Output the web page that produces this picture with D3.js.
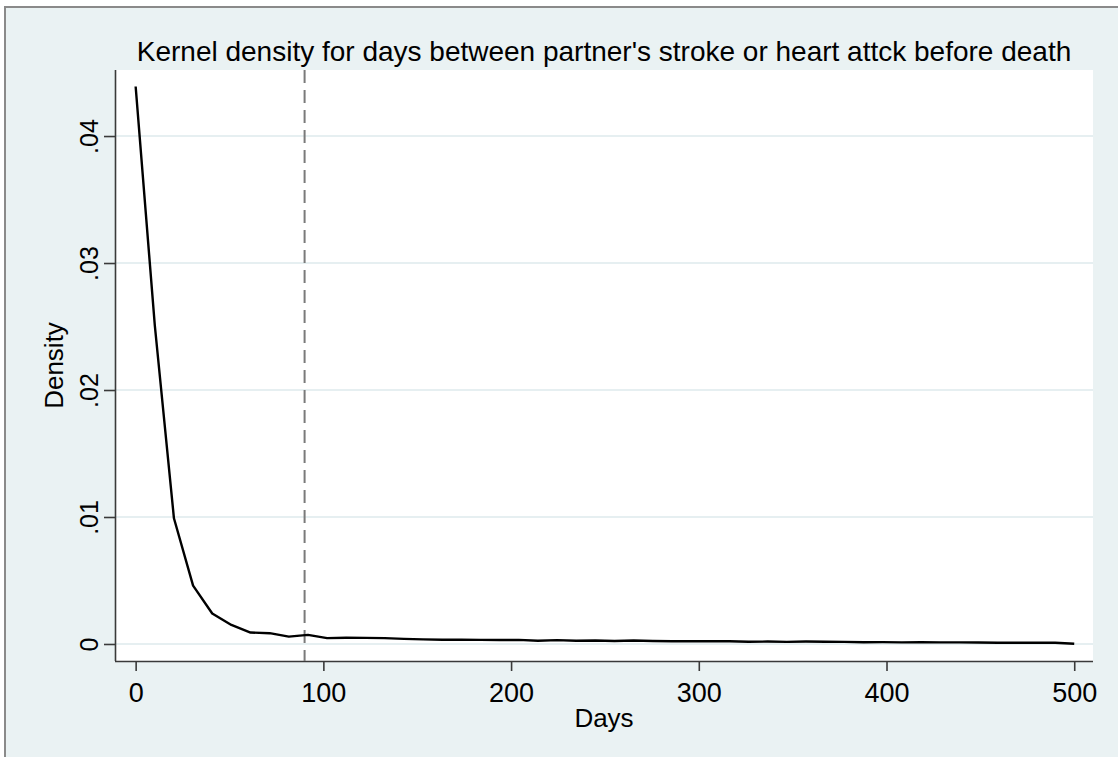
<!DOCTYPE html>
<html>
<head>
<meta charset="utf-8">
<script src="https://cdn.jsdelivr.net/npm/d3@7"></script>
<style>
  html, body { margin: 0; padding: 0; background: #ffffff; }
  svg { display: block; }
  text { font-family: "Liberation Sans", Arial, sans-serif; fill: #000; }
</style>
</head>
<body>
<script>
// Kernel density estimate evaluated on a 50-point grid over 0–500 days
const days = [0, 10.2, 20.4, 30.6, 40.8, 51.0, 61.2, 71.4, 81.6, 91.8,
  102.0, 112.2, 122.4, 132.7, 142.9, 153.1, 163.3, 173.5, 183.7, 193.9,
  204.1, 214.3, 224.5, 234.7, 244.9, 255.1, 265.3, 275.5, 285.7, 295.9,
  306.1, 316.3, 326.5, 336.7, 346.9, 357.1, 367.3, 377.6, 387.8, 398.0,
  408.2, 418.4, 428.6, 438.8, 449.0, 459.2, 469.4, 479.6, 489.8, 500.0];
const density = [0.0439, 0.0251, 0.0099, 0.0046, 0.0024, 0.0015, 0.0009, 0.00085, 0.00058, 0.00072,
  0.00046, 0.00049, 0.00048, 0.00046, 0.00040, 0.00036, 0.00033, 0.00033, 0.00032, 0.00031,
  0.00032, 0.00026, 0.00030, 0.00025, 0.00028, 0.00024, 0.00028, 0.00024, 0.00022, 0.00022,
  0.00022, 0.00021, 0.00018, 0.00019, 0.00017, 0.00019, 0.00018, 0.00017, 0.00014, 0.00015,
  0.00013, 0.00014, 0.00013, 0.00013, 0.00012, 0.00010, 0.00010, 0.00010, 0.00010, 0.00002];

const xTicks = [0, 100, 200, 300, 400, 500];
const yTicks = [0, 0.01, 0.02, 0.03, 0.04];
const yTickLabels = ["0", ".01", ".02", ".03", ".04"];
const cutoffDay = 90;

const titleText = "Kernel density for days between partner's stroke or heart attck before death";
const xTitle = "Days";
const yTitle = "Density";

const W = 1118, H = 757;
const plot = { left: 115, right: 1093, top: 70, bottom: 661 };

const svg = d3.select("body").append("svg").attr("width", W).attr("height", H);

// Graph region
svg.append("rect")
  .attr("x", 5).attr("y", 7).attr("width", W + 20).attr("height", H + 20)
  .attr("fill", "#eaf2f3").attr("stroke", "#8a8a8a").attr("stroke-width", 2);

// Plot region
svg.append("rect")
  .attr("x", plot.left).attr("y", plot.top)
  .attr("width", plot.right - plot.left).attr("height", plot.bottom - plot.top)
  .attr("fill", "#ffffff");

const x = d3.scaleLinear().domain([-11, 510]).range([plot.left, plot.right]);
const y = d3.scaleLinear().domain([-0.00134, 0.0452]).range([plot.bottom, plot.top]);

// Horizontal grid lines
svg.append("g").selectAll("line").data(yTicks).join("line")
  .attr("x1", plot.left).attr("x2", plot.right)
  .attr("y1", d => y(d)).attr("y2", d => y(d))
  .attr("stroke", "#e6eff1").attr("stroke-width", 2);

// Axes
const xAxis = d3.axisBottom(x).tickValues(xTicks).tickSize(10).tickPadding(12).tickFormat(d3.format("d"));
const gx = svg.append("g").attr("transform", `translate(0,${plot.bottom})`).call(xAxis);
gx.select(".domain").attr("stroke", "#3a3a3a").attr("stroke-width", 1.6)
  .attr("d", `M${plot.left},0.5H${plot.right}`);
gx.selectAll(".tick line").attr("stroke", "#3a3a3a").attr("stroke-width", 1.6);
gx.selectAll(".tick text").attr("font-size", 27).attr("fill", "#111")
  .style("font-family", "'Liberation Sans', Arial, sans-serif");

const yAxis = d3.axisLeft(y).tickValues(yTicks).tickSize(11).tickPadding(0)
  .tickFormat((d, i) => yTickLabels[i]);
const gy = svg.append("g").attr("transform", `translate(${plot.left},0)`).call(yAxis);
gy.select(".domain").attr("stroke", "#3a3a3a").attr("stroke-width", 1.6)
  .attr("d", `M0.5,${plot.top}V${plot.bottom}`);
gy.selectAll(".tick line").attr("stroke", "#3a3a3a").attr("stroke-width", 1.6);
gy.selectAll(".tick text")
  .attr("font-size", 25).attr("fill", "#111")
  .attr("x", null).attr("dy", null)
  .attr("text-anchor", "middle")
  .attr("transform", "translate(-17,0) rotate(-90)")
  .style("font-family", "'Liberation Sans', Arial, sans-serif");

// Cutoff reference line
svg.append("line")
  .attr("x1", x(cutoffDay)).attr("x2", x(cutoffDay))
  .attr("y1", plot.top).attr("y2", plot.bottom)
  .attr("stroke", "#7a7a7a").attr("stroke-width", 2)
  .attr("stroke-dasharray", "13,7");

// Density curve
const line = d3.line().x((d, i) => x(days[i])).y(d => y(d));
svg.append("path")
  .datum(density)
  .attr("d", line)
  .attr("fill", "none")
  .attr("stroke", "#000")
  .attr("stroke-width", 2.4)
  .attr("stroke-linejoin", "round");

// Titles
svg.append("text")
  .attr("x", (plot.left + plot.right) / 2).attr("y", 61)
  .attr("text-anchor", "middle").attr("font-size", 28)
  .text(titleText);

svg.append("text")
  .attr("x", (plot.left + plot.right) / 2).attr("y", 727)
  .attr("text-anchor", "middle").attr("font-size", 26)
  .text(xTitle);

svg.append("text")
  .attr("transform", `translate(63,${(plot.top + plot.bottom) / 2}) rotate(-90)`)
  .attr("text-anchor", "middle").attr("font-size", 26)
  .text(yTitle);
</script>
</body>
</html>
